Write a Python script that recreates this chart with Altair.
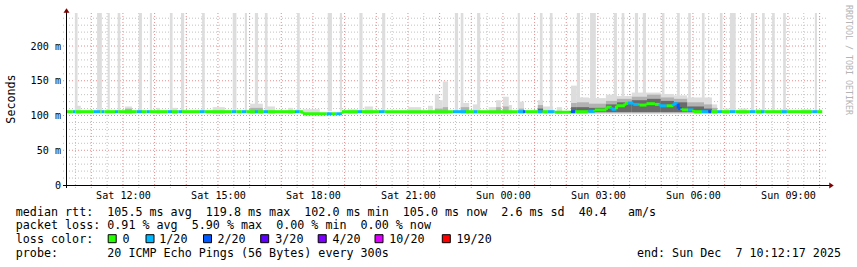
import altair as alt
import pandas as pd

NB = "\u00a0"

# ---------------- data ----------------
# x window: Sat Dec 6 2025 10:14 -> Sun Dec 7 2025 10:14 ; y window in ms
x_from, x_to = "10:14", "10:14"
y_max = 247.5

x_label_times = ["12:00", "15:00", "18:00", "21:00", "00:00", "03:00", "06:00", "09:00"]
y_label_values = [0, 50, 100, 150, 200]

# single slow pings that run off the top of the plot: (start, minutes)
spikes = [("10:29", 5), ("11:11", 9), ("11:31", 4), ("11:50", 5), ("12:30", 6), ("12:51", 4),
          ("13:29", 5), ("13:50", 6), ("14:30", 5), ("15:28", 7), ("15:51", 4), ("16:10", 6),
          ("16:29", 5), ("17:30", 5), ("18:28", 8), ("18:51", 4), ("19:28", 6), ("20:11", 6),
          ("22:29", 6), ("22:40", 5), ("23:11", 6), ("00:28", 4), ("01:10", 5), ("01:29", 5),
          ("02:20", 6), ("02:45", 11), ("03:30", 6), ("03:45", 5), ("04:10", 6), ("04:25", 6),
          ("05:01", 5), ("05:30", 5), ("05:51", 5), ("06:17", 5), ("06:51", 5), ("07:10", 11),
          ("07:50", 6), ("08:11", 5), ("08:30", 5), ("08:51", 5), ("09:51", 4)]
spike_low = 106

# smoke (ping spread): (start, end, outer top, middle top, inner top) in ms
smoke = [("10:29", "10:40", 114, None, None), ("12:04", "12:17", 113, 110, None),
         ("13:04", "13:10", 111, None, None), ("13:33", "13:43", 111, None, None),
         ("14:50", "15:13", 112, None, None), ("16:01", "16:25", 117, 111, None),
         ("16:33", "16:48", 113, None, None), ("17:13", "17:22", 111, None, None),
         ("17:41", "18:13", 109, None, None), ("19:06", "19:25", 109, None, None),
         ("19:38", "19:54", 113, None, None), ("21:00", "21:25", 112, None, None),
         ("21:38", "21:47", 114, None, None), ("21:51", "21:59", 131, 110, None),
         ("21:59", "22:06", 122, 110, None), ("22:06", "22:16", 149, 112, None),
         ("22:40", "22:56", 118, 112, None), ("23:03", "23:13", 116, None, None),
         ("23:33", "23:47", 112, None, None), ("23:47", "23:56", 122, 112, None),
         ("00:00", "00:11", 127, 113, None), ("00:11", "00:17", 115, None, None),
         ("00:30", "00:40", 120, 110, None), ("01:06", "01:16", 122, 115, 110),
         ("01:16", "01:35", 113, None, None), ("01:42", "01:52", 112, None, None),
         ("02:09", "02:20", 143, 118, 112), ("02:20", "02:43", 126, 119, 112),
         ("02:43", "03:15", 125, 117, 111), ("03:15", "03:36", 130, 121, 116),
         ("03:36", "04:04", 128, 124, 119), ("04:04", "04:33", 133, 127, 122),
         ("04:33", "04:59", 133, 130, 124), ("04:59", "05:24", 131, 126, 121),
         ("05:24", "05:49", 129, 124, 119), ("05:49", "06:21", 126, 119, 113),
         ("06:21", "06:36", 126, 116, 110), ("06:36", "06:46", 116, 111, None),
         ("06:59", "07:09", 110, None, None), ("07:27", "07:42", 110, None, None),
         ("08:01", "08:14", 109, None, None), ("08:45", "08:58", 109, None, None),
         ("09:25", "09:44", 109, None, None)]
smoke_low = [102, 103.5, 105]

# median rtt: (start, end, ms, loss index)
median = [("10:14", "10:25", 105.5, 0), ("10:25", "10:30", 105.5, 1), ("10:30", "11:05", 105.5, 0),
          ("11:05", "11:17", 105.5, 1), ("11:17", "11:20", 105.5, 0), ("11:20", "11:25", 105.5, 1),
          ("11:25", "11:45", 105.5, 0), ("11:45", "11:51", 105.5, 1), ("11:51", "12:26", 105.5, 0),
          ("12:26", "12:36", 105.5, 1), ("12:36", "12:45", 105.5, 0), ("12:45", "12:51", 105.5, 1),
          ("12:51", "13:25", 105.5, 0), ("13:25", "13:33", 105.5, 1), ("13:33", "13:45", 105.5, 0),
          ("13:45", "13:52", 105.5, 1), ("13:52", "14:26", 105.5, 0), ("14:26", "14:35", 105.5, 1),
          ("14:35", "15:26", 105.5, 0), ("15:26", "15:35", 105.5, 1), ("15:35", "15:45", 105.5, 0),
          ("15:45", "15:54", 105.5, 1), ("15:54", "16:10", 105.5, 0), ("16:10", "16:16", 105.5, 1),
          ("16:16", "16:26", 105.5, 0), ("16:26", "16:35", 105.5, 1), ("16:35", "17:26", 105.5, 0),
          ("17:26", "17:35", 105.5, 1), ("17:35", "17:41", 105.5, 0), ("17:41", "18:26", 102.5, 0),
          ("18:26", "18:36", 102.5, 1), ("18:36", "18:44", 102.5, 0), ("18:44", "18:55", 102.5, 1),
          ("18:55", "19:24", 105.5, 0), ("19:24", "19:33", 105.5, 1), ("19:33", "20:05", 105.5, 0),
          ("20:05", "20:16", 105.5, 1), ("20:16", "22:25", 105.5, 0), ("22:25", "22:50", 105.5, 1),
          ("22:50", "23:05", 105.5, 0), ("23:05", "23:12", 105.5, 1), ("23:12", "00:28", 105.5, 0),
          ("00:28", "00:38", 105.5, 1), ("00:38", "00:43", 105.5, 2), ("00:43", "01:06", 105.5, 0),
          ("01:06", "01:15", 105.5, 1), ("01:15", "01:25", 105.5, 0), ("01:25", "01:38", 105.5, 1),
          ("01:38", "02:09", 104.8, 0), ("02:09", "02:17", 105.5, 2), ("02:17", "02:42", 105.5, 0),
          ("02:42", "02:54", 106, 1), ("02:54", "03:16", 108, 0), ("03:16", "03:26", 112, 0),
          ("03:26", "03:35", 109, 1), ("03:35", "03:51", 114, 0), ("03:51", "03:57", 117.5, 0),
          ("03:57", "04:07", 118, 1), ("04:07", "04:19", 116, 1), ("04:19", "04:32", 115, 0),
          ("04:32", "04:48", 117, 0), ("04:48", "04:57", 116, 0), ("04:57", "05:10", 114, 1),
          ("05:10", "05:23", 114, 0), ("05:23", "05:32", 117, 1), ("05:32", "05:39", 110, 2),
          ("05:39", "05:51", 108, 0), ("05:51", "06:01", 108, 1), ("06:01", "06:17", 105.5, 0),
          ("06:17", "06:29", 105.5, 1), ("06:29", "06:35", 105.5, 2), ("06:35", "06:46", 105.5, 0),
          ("06:46", "06:55", 105.5, 1), ("06:55", "07:09", 105.5, 0), ("07:09", "07:20", 105.5, 1),
          ("07:20", "07:48", 105.5, 0), ("07:48", "07:58", 105.5, 1), ("07:58", "08:09", 105.5, 0),
          ("08:09", "08:16", 105.5, 1), ("08:16", "08:48", 105.5, 0), ("08:48", "08:58", 105.5, 1),
          ("08:58", "09:46", 105.5, 0), ("09:46", "09:55", 105.5, 1), ("09:55", "10:05", 105.5, 0)]

loss_labels = ["0", "1/20", "2/20", "3/20", "4/20", "10/20", "19/20"]
loss_colors = ["#26ff00", "#00b8ff", "#0059ff", "#5e00ff", "#7e00ff", "#dd00ff", "#ff0000"]

legend_lines = [
    "median rtt:  105.5 ms avg  119.8 ms max  102.0 ms min  105.0 ms now  2.6 ms sd  40.4   am/s",
    "packet loss: 0.91 % avg  5.90 % max  0.00 % min  0.00 % now",
    "loss color:",
    "probe:       20 ICMP Echo Pings (56 Bytes) every 300s",
]
end_text = "end: Sun Dec  7 10:12:17 2025"
y_title = "Seconds"
watermark = "RRDTOOL / TOBI OETIKER"

# ---------------- layout (pixels, relative to plot origin 67,13) ----------------
W, H = 760, 172
PAD = {"left": 67, "top": 13, "right": 30, "bottom": 82}
line_y = [198.5, 212.2, 225.9, 239.6]
text_x = -51.2
swatch_x = [112.2, 150, 207.5, 264.7, 322.2, 379, 446.3]
swatch_label_x = [122.5, 159.3, 217.5, 275.3, 332.5, 389.3, 456.5]
MONO = "DejaVu Sans Mono"
GRID_MINOR = "#c2c2c2"
GRID_MAJOR = "#e48c8c"


def T(hm):
    day = 6 if hm >= "10:14" else 7
    return f"2025-12-{day:02d}T{hm}:00"


def DT(hm, day=None):
    ts = pd.Timestamp(T(hm))
    return alt.DateTime(year=ts.year, month=ts.month, date=day or ts.day, hours=ts.hour, minutes=ts.minute)


xscale = alt.Scale(domain=[DT(x_from), DT(x_to, day=7)], nice=False)
yscale = alt.Scale(domain=[0, y_max], nice=False, zero=False)

xaxis = alt.Axis(values=[DT(t) for t in x_label_times], format="%a %H:%M", labelFont=MONO,
                 labelFontSize=10.1, labelColor="black", ticks=False, domain=False, grid=False,
                 labelPadding=5.5, labelFlush=False, title=None, labelOverlap=False)
yaxis = alt.Axis(values=y_label_values, labelExpr=f"datum.value == 0 ? '0{NB}{NB}' : datum.value + '{NB}m'",
                 labelFont=MONO, labelFontSize=10.1, labelColor="black", ticks=False, domain=False,
                 grid=False, labelPadding=6.5, title=None)


def X(f):
    return alt.X(f, scale=xscale, axis=xaxis)


def Y(f):
    return alt.Y(f, scale=yscale, axis=yaxis)


# ---------------- tables ----------------
spike_df = pd.DataFrame({
    "t0": [T(s) for s, m in spikes],
    "t1": [(pd.Timestamp(T(s)) + pd.Timedelta(minutes=m)).strftime("%Y-%m-%dT%H:%M:%S") for s, m in spikes],
    "lo": spike_low, "hi": 260,
})

smoke_tabs = []
for k in range(3):
    rows = [(T(s[0]), T(s[1]), smoke_low[k], s[2 + k]) for s in smoke if s[2 + k] is not None]
    smoke_tabs.append(pd.DataFrame(rows, columns=["t0", "t1", "lo", "hi"]))

med_df = pd.DataFrame({
    "t0": [T(a) for a, b, v, l in median],
    "t1": [T(b) for a, b, v, l in median],
    "ms": [v for a, b, v, l in median],
    "loss": [loss_labels[l] for a, b, v, l in median],
})
conn = []
for p, n in zip(median[:-1], median[1:]):
    if p[2] != n[2]:
        conn.append((T(n[0]), p[2], n[2], loss_labels[n[3]]))
conn_df = pd.DataFrame(conn, columns=["t", "a", "b", "loss"])

grid_t = pd.date_range("2025-12-06T10:30:00", "2025-12-07T10:00:00", freq="30min")
xg_major = pd.DataFrame({"t": [t.strftime("%Y-%m-%dT%H:%M:%S") for t in grid_t if t.minute == 0]})
xg_minor = pd.DataFrame({"t": [t.strftime("%Y-%m-%dT%H:%M:%S") for t in grid_t if t.minute != 0]})
yg_major = pd.DataFrame({"v": [v for v in range(50, 250, 50)]})
yg_minor = pd.DataFrame({"v": [v for v in range(10, 250, 10) if v % 50]})

one = pd.DataFrame({"a": [0]})
lossc = alt.Color("loss:N", scale=alt.Scale(domain=loss_labels, range=loss_colors), legend=None)

layers = []
# grid
layers.append(alt.Chart(xg_minor).mark_rule(stroke=GRID_MINOR, strokeWidth=1, strokeDash=[1, 2]).encode(
    x=X("t:T"), y=alt.value(0), y2=alt.value(H + 3)))
layers.append(alt.Chart(yg_minor).mark_rule(stroke=GRID_MINOR, strokeWidth=1, strokeDash=[1, 2]).encode(
    y=Y("v:Q"), x=alt.value(-4), x2=alt.value(W)))
layers.append(alt.Chart(xg_major).mark_rule(stroke=GRID_MAJOR, strokeWidth=1, strokeDash=[1, 2]).encode(
    x=X("t:T"), y=alt.value(0), y2=alt.value(H + 3)))
layers.append(alt.Chart(yg_major).mark_rule(stroke=GRID_MAJOR, strokeWidth=1, strokeDash=[1, 2]).encode(
    y=Y("v:Q"), x=alt.value(-4), x2=alt.value(W)))

# spikes
layers.append(alt.Chart(spike_df).mark_rect(color="#dddddd", clip=True).encode(
    x=X("t0:T"), x2="t1:T", y=Y("lo:Q"), y2="hi:Q"))

# smoke
for tab, col in zip(smoke_tabs, ["#dddddd", "#b2b2b2", "#6a6a6a"]):
    layers.append(alt.Chart(tab).mark_rect(color=col).encode(
        x=X("t0:T"), x2="t1:T", y=Y("lo:Q"), y2="hi:Q"))

# median line coloured by loss
layers.append(alt.Chart(med_df).mark_rule(strokeWidth=3).encode(
    x=X("t0:T"), x2="t1:T", y=Y("ms:Q"), color=lossc))
layers.append(alt.Chart(conn_df).mark_rule(strokeWidth=3).encode(
    x=X("t:T"), y=Y("a:Q"), y2="b:Q", color=lossc))

# axis lines and arrows
layers.append(alt.Chart(one).mark_rule(color="black", strokeWidth=1).encode(
    x=alt.value(-4), x2=alt.value(W + 3), y=alt.value(H + 0.5)))
layers.append(alt.Chart(one).mark_rule(color="black", strokeWidth=1).encode(
    x=alt.value(-0.5), y=alt.value(-3), y2=alt.value(H + 3)))
layers.append(alt.Chart(one).mark_point(shape="M-1,0.75L1,0.75L0,-0.75Z", size=36, filled=True,
                                        color="#7f0000", opacity=1, strokeWidth=0).encode(
    x=alt.value(-0.5), y=alt.value(-2.5)))
layers.append(alt.Chart(one).mark_point(shape="M-0.75,-1L0.75,0L-0.75,1Z", size=36, filled=True,
                                        color="#7f0000", opacity=1, strokeWidth=0).encode(
    x=alt.value(W + 4.5), y=alt.value(H + 0.5)))


# texts
def txt(s, x, y, **kw):
    props = dict(font=MONO, fontSize=11.7, color="black", align="left", baseline="middle")
    props.update(kw)
    return alt.Chart(one).mark_text(text=s.replace(" ", NB), **props).encode(
        x=alt.value(x), y=alt.value(y))


for s, y in zip(legend_lines, line_y):
    layers.append(txt(s, text_x, y))
layers.append(txt(end_text, 841 - 67, line_y[3], align="right"))
layers.append(txt(y_title, 11 - 67, 86, align="center", angle=270))
layers.append(txt(watermark, 848 - 67, -8, fontSize=8.3, color="#b4b4b4", angle=90))

for xs, xl, lab, col in zip(swatch_x, swatch_label_x, loss_labels, loss_colors):
    layers.append(alt.Chart(one).mark_square(size=64, filled=True, fill=col, stroke="black",
                                             strokeWidth=1, opacity=1).encode(
        x=alt.value(xs - 67), y=alt.value(238.7 - 13)))
    layers.append(txt(lab, xl - 67, line_y[2]))

chart = alt.layer(*layers).properties(
    width=W, height=H, padding=PAD, autosize="none", background="white"
).configure_view(stroke=None)

chart.save("out.html", embed_options={"renderer": "svg", "actions": False})
